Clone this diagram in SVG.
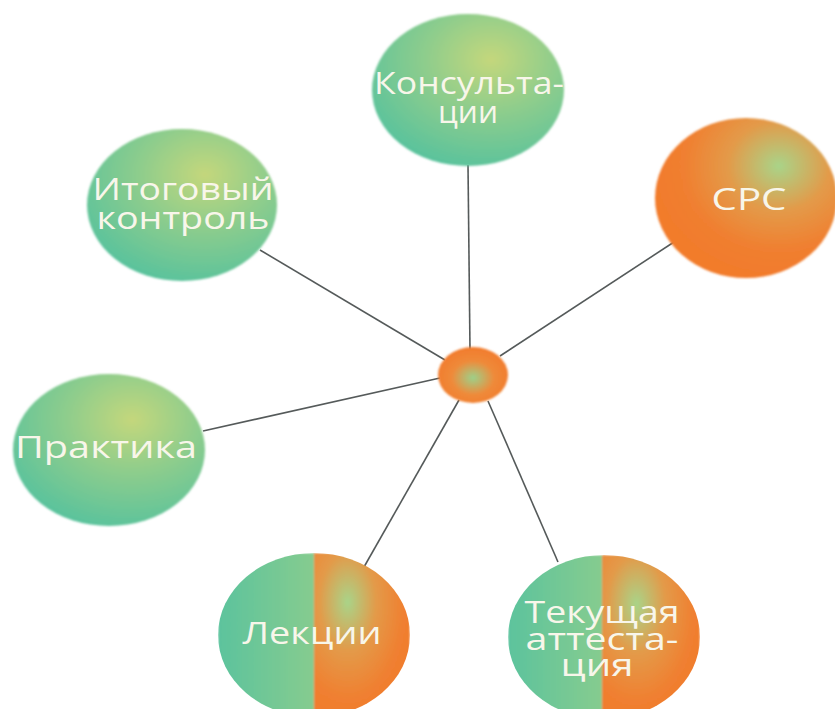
<svg xmlns="http://www.w3.org/2000/svg" width="835" height="709" viewBox="0 0 835 709">
<defs>
<radialGradient id="gG" cx="0.62" cy="0.3" r="0.75">
<stop offset="0" stop-color="#c4d77c"/>
<stop offset="0.45" stop-color="#8fcd8c"/>
<stop offset="1" stop-color="#57c29d"/>
</radialGradient>
<radialGradient id="gO" cx="0.68" cy="0.3" r="0.7">
<stop offset="0" stop-color="#a9d489"/>
<stop offset="0.4" stop-color="#e39a49"/>
<stop offset="0.75" stop-color="#f07f30"/>
<stop offset="1" stop-color="#f27b2c"/>
</radialGradient>
<radialGradient id="gC" cx="0.5" cy="0.55" r="0.55">
<stop offset="0" stop-color="#9cd18a"/>
<stop offset="0.55" stop-color="#ef8a3a"/>
<stop offset="1" stop-color="#f27b2c"/>
</radialGradient>
<linearGradient id="gL" x1="0" y1="0" x2="1" y2="0">
<stop offset="0" stop-color="#5cc39d"/>
<stop offset="1" stop-color="#86cc8f"/>
</linearGradient>
<radialGradient id="gR" cx="0.35" cy="0.3" r="0.85">
<stop offset="0" stop-color="#a9d489"/>
<stop offset="0.35" stop-color="#e39a49"/>
<stop offset="0.7" stop-color="#f07f30"/>
<stop offset="1" stop-color="#f27b2c"/>
</radialGradient>
<clipPath id="cL"><ellipse cx="314" cy="635" rx="96" ry="82"/></clipPath>
<clipPath id="cT"><ellipse cx="604" cy="637" rx="96" ry="82"/></clipPath>
<filter id="soft" x="-5%" y="-5%" width="110%" height="110%"><feGaussianBlur stdDeviation="0.8"/></filter>
</defs>
<style>
.t{font-family:"Open Sans",Lato,sans-serif;font-size:31px;fill:#f8f6ea;text-anchor:middle}
.c{stroke:#555a5a;stroke-width:1.6;fill:none}
</style>
<rect width="835" height="709" fill="#ffffff"/>
<g id="connectors">
<line class="c" x1="470" y1="350" x2="468" y2="165"/>
<line class="c" x1="500" y1="356" x2="674" y2="242"/>
<line class="c" x1="445" y1="360" x2="260" y2="250"/>
<line class="c" x1="440" y1="378" x2="203" y2="431"/>
<line class="c" x1="459" y1="400" x2="364" y2="567"/>
<line class="c" x1="488" y1="401" x2="558" y2="562"/>
</g>
<g id="node-konsultacii">
<ellipse cx="468" cy="90" rx="96" ry="76" fill="url(#gG)" filter="url(#soft)"/>
<text class="t" x="469" y="94" textLength="190" lengthAdjust="spacingAndGlyphs">Консульта-</text>
<text class="t" x="468" y="123" textLength="60" lengthAdjust="spacingAndGlyphs">ции</text>
</g>
<g id="node-cpc">
<ellipse cx="746" cy="198" rx="91" ry="80" fill="url(#gO)" filter="url(#soft)"/>
<text class="t" x="749" y="210" textLength="75" lengthAdjust="spacingAndGlyphs">CPC</text>
</g>
<g id="node-itogovyj">
<ellipse cx="182" cy="205" rx="95" ry="76" fill="url(#gG)" filter="url(#soft)"/>
<text class="t" x="183" y="200" textLength="181" lengthAdjust="spacingAndGlyphs">Итоговый</text>
<text class="t" x="183" y="229" textLength="173" lengthAdjust="spacingAndGlyphs">контроль</text>
</g>
<g id="node-praktika">
<ellipse cx="109" cy="450" rx="96" ry="76" fill="url(#gG)" filter="url(#soft)"/>
<text class="t" x="106" y="458" textLength="182" lengthAdjust="spacingAndGlyphs">Практика</text>
</g>
<g id="node-center">
<ellipse cx="473" cy="375" rx="35" ry="28" fill="url(#gC)" filter="url(#soft)"/>
</g>
<g id="node-lekcii">
<g clip-path="url(#cL)" filter="url(#soft)">
<rect x="218" y="553" width="96" height="164" fill="url(#gL)"/>
<rect x="314" y="553" width="96" height="164" fill="url(#gR)"/>
</g>
<text class="t" x="312" y="644" textLength="139" lengthAdjust="spacingAndGlyphs">Лекции</text>
</g>
<g id="node-tekushchaya">
<g clip-path="url(#cT)" filter="url(#soft)">
<rect x="508" y="555" width="94" height="164" fill="url(#gL)"/>
<rect x="602" y="555" width="98" height="164" fill="url(#gR)"/>
</g>
<text class="t" x="602" y="623" textLength="155" lengthAdjust="spacingAndGlyphs">Текущая</text>
<text class="t" x="602" y="650" textLength="153" lengthAdjust="spacingAndGlyphs">аттеста-</text>
<text class="t" x="597" y="676" textLength="73" lengthAdjust="spacingAndGlyphs">ция</text>
</g>
</svg>
